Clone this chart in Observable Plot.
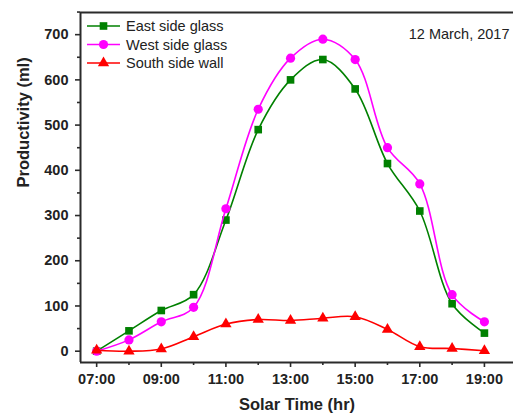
<!DOCTYPE html>
<html>
<head>
<meta charset="utf-8">
<script src="https://cdn.jsdelivr.net/npm/d3@7"></script>
<script src="https://cdn.jsdelivr.net/npm/@observablehq/plot@0.6"></script>
<style>
  html, body { margin: 0; padding: 0; background: #fff; }
  #chart { position: relative; width: 513px; height: 418px; }
</style>
</head>
<body>
<div id="chart"></div>
<script>
// Data
const hours = [7, 8, 9, 10, 11, 12, 13, 14, 15, 16, 17, 18, 19];
const eastGlass = [0, 45, 90, 125, 290, 490, 600, 645, 580, 415, 310, 105, 40];
const westGlass = [0, 25, 65, 97, 315, 535, 648, 690, 645, 450, 370, 125, 65];
const southWall = [2, 0, 5, 32, 60, 70, 68, 73, 76, 48, 10, 6, 1];
const seriesNames = ["East side glass", "West side glass", "South side wall"];
const seriesColors = ["#008000", "#ff00ff", "#ff0000"];
const seriesSymbols = ["square", "circle", "triangle"];
const yTicks = [0, 100, 200, 300, 400, 500, 600, 700];
const yMinorTicks = [50, 150, 250, 350, 450, 550, 650, 750];
const xTicks = [7, 9, 11, 13, 15, 17, 19];
const xMinorTicks = [8, 10, 12, 14, 16, 18];
const dateLabel = "12 March, 2017";

const seriesValues = [eastGlass, westGlass, southWall];
const rows = seriesNames.flatMap((name, i) =>
  hours.map((h, j) => ({series: name, hour: h, value: seriesValues[i][j]})));

const fmtHour = d => String(d).padStart(2, "0") + ":00";
const xDomain = [6.5, 19.9];
const yDomain = [-25, 749];
const axisColor = "#2b2b2b";
const symR = s => s === "triangle" ? 4.2 : (s === "square" ? 4.3 : 4.6);

const seriesMarks = seriesNames.flatMap((name, i) => {
  const data = rows.filter(r => r.series === name);
  return [
    Plot.line(data, {x: "hour", y: "value", curve: "catmull-rom", stroke: seriesColors[i], strokeWidth: 1.6}),
    Plot.dot(data, {x: "hour", y: "value", symbol: seriesSymbols[i], fill: seriesColors[i], stroke: "none",
                    r: symR(seriesSymbols[i])})
  ];
});

const chart = Plot.plot({
  width: 513,
  height: 418,
  marginLeft: 80,
  marginRight: 0,
  marginTop: 12,
  marginBottom: 56,
  style: {fontFamily: "'Liberation Sans', Arial, sans-serif", background: "#fff", color: "#222"},
  x: {domain: xDomain},
  y: {domain: yDomain},
  marks: [
    // frame lines
    Plot.ruleX([xDomain[0]], {stroke: axisColor, strokeWidth: 2}),
    Plot.ruleY([yDomain[0]], {stroke: axisColor, strokeWidth: 2}),
    Plot.ruleY([yDomain[1]], {stroke: axisColor, strokeWidth: 2}),
    // y axis
    Plot.axisY({ticks: yTicks, tickSize: 5, tickPadding: 7, strokeWidth: 1.6, stroke: axisColor,
                fontSize: 14.5, fontWeight: "bold", fill: "#222", label: null}),
    Plot.axisY({ticks: yMinorTicks, tickSize: 3, strokeWidth: 1.6, stroke: axisColor, text: null, label: null}),
    // x axis
    Plot.axisX({ticks: xTicks, tickSize: 5, tickPadding: 6, tickFormat: fmtHour, strokeWidth: 1.6, stroke: axisColor,
                fontSize: 14.5, fontWeight: "bold", fill: "#222", label: null}),
    Plot.axisX({ticks: xMinorTicks, tickSize: 3, strokeWidth: 1.6, stroke: axisColor, text: null, label: null}),
    // axis titles
    Plot.text(["Solar Time (hr)"], {frameAnchor: "bottom", dy: 47, fontSize: 16.5, fontWeight: "bold", fill: "#222"}),
    Plot.text(["Productivity (ml)"], {frameAnchor: "left", dx: -57, rotate: -90, fontSize: 16.5, fontWeight: "bold", fill: "#222"}),
    // annotation
    Plot.text([dateLabel], {frameAnchor: "top-right", dx: -4, dy: 16, textAnchor: "end", fontSize: 14.5, fill: "#222"}),
    ...seriesMarks
  ]
});

// legend (inside plot, top-left), built from the series arrays
const svg = d3.select(chart);
const legend = svg.append("g")
  .attr("font-family", "'Liberation Sans', Arial, sans-serif")
  .attr("font-size", 14.5)
  .attr("text-anchor", "start");
seriesNames.forEach((name, i) => {
  const g = legend.append("g").attr("transform", `translate(87,${26 + i * 18.5})`);
  g.append("line").attr("x1", 0).attr("x2", 33).attr("y1", 0).attr("y2", 0)
    .attr("stroke", seriesColors[i]).attr("stroke-width", 1.6);
  const sym = {square: d3.symbolSquare, circle: d3.symbolCircle, triangle: d3.symbolTriangle}[seriesSymbols[i]];
  const r = symR(seriesSymbols[i]);
  g.append("path").attr("transform", "translate(16.5,0)")
    .attr("d", d3.symbol(sym, Math.PI * r * r)()).attr("fill", seriesColors[i]);
  g.append("text").attr("x", 39).attr("y", 0).attr("dy", "0.35em")
    .attr("text-anchor", "start").attr("fill", "#222").text(name);
});

document.getElementById("chart").appendChild(chart);
</script>
</body>
</html>
